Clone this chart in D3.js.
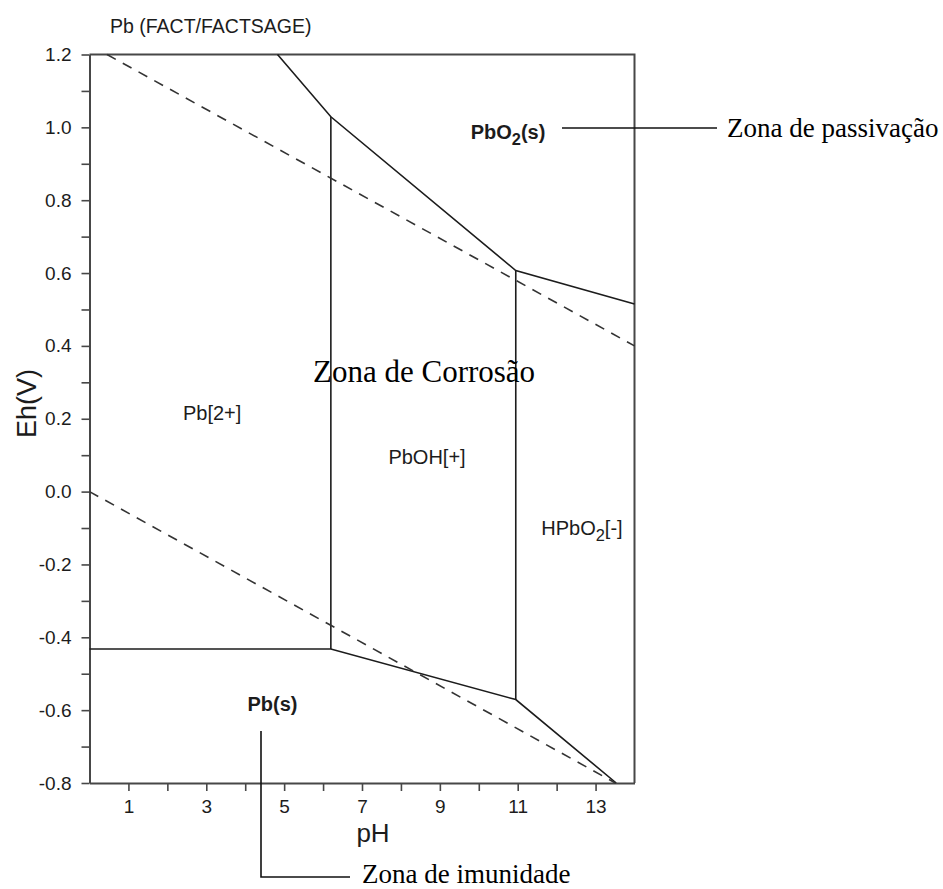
<!DOCTYPE html>
<html>
<head>
<meta charset="utf-8">
<script src="https://cdn.jsdelivr.net/npm/d3@7"></script>
<style>
  body { margin: 0; background: #fff; }
  svg { display: block; }
</style>
</head>
<body>
<svg id="chart" width="943" height="889"></svg>
<script>
// ---- Data -------------------------------------------------------------
const chartTitle = "Pb (FACT/FACTSAGE)";
const phDomain = [0, 14];
const ehDomain = [-0.8, 1.2];

const phTickLabels = [1, 3, 5, 7, 9, 11, 13];
const phMinorTicks = [1, 2, 3, 4, 5, 6, 7, 8, 9, 10, 11, 12, 13];
const ehTickLabels = [-0.8, -0.6, -0.4, -0.2, 0.0, 0.2, 0.4, 0.6, 0.8, 1.0, 1.2];
const ehMinorTicks = [-0.8, -0.7, -0.6, -0.5, -0.4, -0.3, -0.2, -0.1, 0.0, 0.1,
                      0.2, 0.3, 0.4, 0.5, 0.6, 0.7, 0.8, 0.9, 1.0, 1.1, 1.2];

// Stability-field boundaries, [pH, Eh(V)]
const pbo2Boundary      = [[4.83, 1.2], [6.2, 1.029], [10.95, 0.607], [14, 0.515]];
const pbMetalBoundary   = [[0, -0.432], [6.2, -0.432], [10.95, -0.571], [13.53, -0.8]];
const pb2PbOHBoundary   = [[6.2, 1.029], [6.2, -0.432]];
const pbOHHPbO2Boundary = [[10.95, 0.607], [10.95, -0.571]];

// Water stability limits (dashed)
const oxygenLimit   = [[0.45, 1.2], [14, 0.40]];
const hydrogenLimit = [[0, 0.0], [13.51, -0.8]];

// Species labels ("_" marks a subscript digit), anchored at [pH, Eh]
const speciesNames = ["Pb[2+]", "PbOH[+]", "HPbO_2[-]", "PbO_2(s)", "Pb(s)"];
const speciesPH    = [3.15, 8.67, 12.65, 10.75, 4.70];
const speciesEh    = [0.197, 0.076, -0.119, 0.968, -0.602];
const speciesBold  = [false, false, false, true, true];

// ---- Layout -----------------------------------------------------------
const svg = d3.select("#chart");
const plot = { left: 89.5, right: 634.5, top: 54.5, bottom: 783 };

const x = d3.scaleLinear().domain(phDomain).range([plot.left, plot.right]);
const y = d3.scaleLinear().domain(ehDomain).range([plot.bottom, plot.top]);

const SANS = "'Liberation Sans', Arial, Helvetica, sans-serif";
const SERIF = "'Liberation Serif', 'Times New Roman', Times, serif";
const INK = "#1c1c1c";
const FRAME = "#474747";

// Title
svg.append("text")
  .attr("x", 110).attr("y", 33)
  .attr("font-family", SANS).attr("font-size", 19.5)
  .attr("fill", INK)
  .text(chartTitle);

// Frame (top and right edges)
svg.append("path")
  .attr("d", `M${plot.left},${plot.top}H${plot.right}V${plot.bottom}`)
  .attr("fill", "none").attr("stroke", FRAME).attr("stroke-width", 2);

// X axis
const fmt1 = v => (Math.round(v * 10) / 10).toFixed(1).replace("-0.0", "0.0");
const xAxis = d3.axisBottom(x)
  .tickValues(phMinorTicks)
  .tickSize(8).tickSizeOuter(0).tickPadding(9)
  .tickFormat(v => phTickLabels.includes(v) ? String(v) : "");
const gx = svg.append("g")
  .attr("transform", `translate(0,${plot.bottom})`)
  .call(xAxis);

// Y axis
const yAxis = d3.axisLeft(y)
  .tickValues(ehMinorTicks)
  .tickSize(8).tickSizeOuter(0).tickPadding(10)
  .tickFormat(v => ehTickLabels.some(t => Math.abs(t - v) < 1e-9) ? fmt1(v) : "");
const gy = svg.append("g")
  .attr("transform", `translate(${plot.left},0)`)
  .call(yAxis);

[gx, gy].forEach(g => {
  g.select(".domain").attr("stroke", FRAME).attr("stroke-width", 2);
  g.selectAll(".tick line").attr("stroke", FRAME).attr("stroke-width", 1.6);
  g.selectAll(".tick text")
    .attr("font-family", SANS).attr("font-size", 19).attr("fill", INK);
});

// Axis titles
svg.append("text")
  .attr("x", 373).attr("y", 842)
  .attr("text-anchor", "middle")
  .attr("font-family", SANS).attr("font-size", 26).attr("fill", INK)
  .text("pH");

svg.append("text")
  .attr("transform", "translate(36,438) rotate(-90)")
  .attr("text-anchor", "start")
  .attr("font-family", SANS).attr("font-size", 27).attr("fill", INK)
  .text("Eh(V)");

// Boundaries
const line = d3.line().x(d => x(d[0])).y(d => y(d[1]));
const plotArea = svg.append("g");

[pbo2Boundary, pbMetalBoundary, pb2PbOHBoundary, pbOHHPbO2Boundary].forEach(seg => {
  plotArea.append("path")
    .attr("d", line(seg))
    .attr("fill", "none")
    .attr("stroke", INK).attr("stroke-width", 1.6)
    .attr("stroke-linejoin", "miter");
});

[oxygenLimit, hydrogenLimit].forEach(seg => {
  plotArea.append("path")
    .attr("d", line(seg))
    .attr("fill", "none")
    .attr("stroke", "#333").attr("stroke-width", 1.6)
    .attr("stroke-dasharray", "10,8");
});

// Species labels with subscripts
function addFormula(sel, formula) {
  const parts = formula.split(/(_\d)/).filter(s => s.length);
  let lowered = false;
  parts.forEach(p => {
    const t = sel.append("tspan");
    if (p.startsWith("_")) {
      t.attr("dy", 6).attr("font-size", "0.82em").text(p.slice(1));
      lowered = true;
    } else {
      if (lowered) { t.attr("dy", -6); lowered = false; }
      t.text(p);
    }
  });
}

speciesNames.forEach((name, i) => {
  const t = plotArea.append("text")
    .attr("x", x(speciesPH[i])).attr("y", y(speciesEh[i]))
    .attr("text-anchor", "middle")
    .attr("font-family", SANS).attr("font-size", 20)
    .attr("font-weight", speciesBold[i] ? "bold" : "normal")
    .attr("fill", INK);
  addFormula(t, name);
});

// Zone annotations
const notes = svg.append("g")
  .attr("font-family", SERIF).attr("fill", "#000");

notes.append("text")
  .attr("x", 313).attr("y", 382)
  .attr("font-size", 31)
  .text("Zona de Corrosão");

notes.append("line")
  .attr("x1", 562).attr("x2", 717).attr("y1", 128).attr("y2", 128)
  .attr("stroke", "#111").attr("stroke-width", 1.6);
notes.append("text")
  .attr("x", 727).attr("y", 137)
  .attr("font-size", 27)
  .text("Zona de passivação");

notes.append("path")
  .attr("d", "M261,731V877H350")
  .attr("fill", "none").attr("stroke", "#111").attr("stroke-width", 1.6);
notes.append("text")
  .attr("x", 362).attr("y", 883)
  .attr("font-size", 27)
  .text("Zona de imunidade");
</script>
</body>
</html>
